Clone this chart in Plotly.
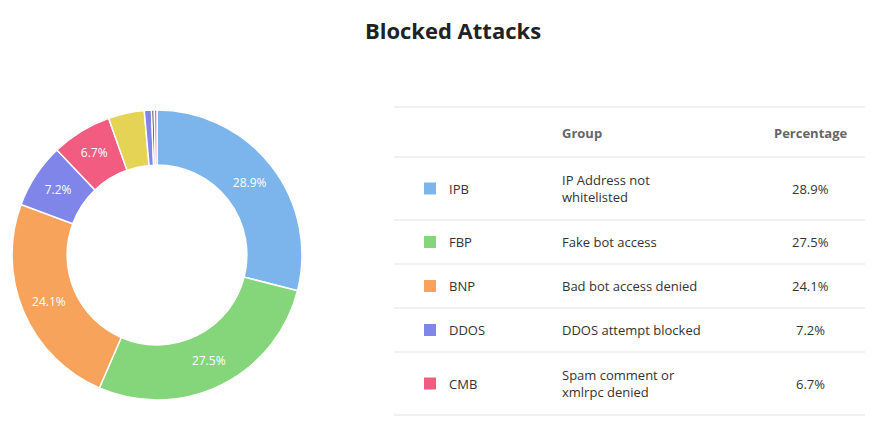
import plotly.graph_objects as go

W, H = 873, 439
OFF = 8  # page body margin

codes = ["IPB", "FBP", "BNP", "DDOS", "CMB", "OTH1", "OTH2", "OTH3", "OTH4"]
groups = ["IP Address not<br>whitelisted", "Fake bot access", "Bad bot access denied",
          "DDOS attempt blocked", "Spam comment or<br>xmlrpc denied"]
values = [28.9, 27.5, 24.1, 7.2, 6.7, 4.0, 0.8, 0.3, 0.3]
colors = ["#7cb5ec", "#85d67a", "#f7a35c", "#8085e9", "#f15c80", "#e4d354", "#8085e9", "#434348", "#f15c80"]
table_rows = 5


def px(x):
    return (x - OFF) / W


def py(y):
    return 1 - (y - OFF) / H


fig = go.Figure()
fig.add_trace(go.Pie(
    labels=codes, values=values, hole=0.62, sort=False, direction="clockwise",
    rotation=0, marker=dict(colors=colors, line=dict(color="white", width=1.5)),
    text=[f"{v}%" if v > 5 else "" for v in values], textinfo="text",
    textposition="inside", insidetextorientation="horizontal",
    textfont=dict(color="white", size=12, family="Open Sans"),
    domain=dict(x=[px(12), px(302)], y=[py(400), py(110)]),
    showlegend=False, hoverinfo="label+percent",
))

# table lines
row_lines = [107, 157, 220, 264, 308, 352, 415]
for y in row_lines:
    fig.add_shape(type="line", xref="paper", yref="paper", x0=px(394), x1=px(872),
                  y0=py(y), y1=py(y), line=dict(color="#e3e3e3", width=1))

fnt = dict(family="Open Sans", size=13, color="#333")
hdr = dict(family="Open Sans", size=13, color="#666")
fig.add_annotation(x=px(560), y=py(133), text="<b>Group</b>", xanchor="left", font=hdr)
fig.add_annotation(x=px(810), y=py(133), text="<b>Percentage</b>", xanchor="center", font=hdr)

for i in range(table_rows):
    yc = (row_lines[i + 1] + row_lines[i + 2]) / 2
    fig.add_shape(type="rect", xref="paper", yref="paper", x0=px(424), x1=px(436),
                  y0=py(yc - 6), y1=py(yc + 6), fillcolor=colors[i], line=dict(width=0))
    fig.add_annotation(x=px(447), y=py(yc), text=codes[i], xanchor="left", font=fnt)
    fig.add_annotation(x=px(560), y=py(yc), text=groups[i], xanchor="left", align="left", font=fnt)
    fig.add_annotation(x=px(810), y=py(yc), text=f"{values[i]}%", xanchor="center", font=fnt)

for a in fig.layout.annotations:
    a.update(xref="paper", yref="paper", showarrow=False, yanchor="middle")

fig.update_layout(
    width=W, height=H, margin=dict(l=0, r=0, t=0, b=0),
    paper_bgcolor="white", plot_bgcolor="white",
    title=dict(text="<b>Blocked Attacks</b>", x=(453 - OFF) / W, xanchor="center", y=py(31), yanchor="middle",
               font=dict(family="Open Sans", size=22, color="#222")),
)
fig.write_html("out.html")
